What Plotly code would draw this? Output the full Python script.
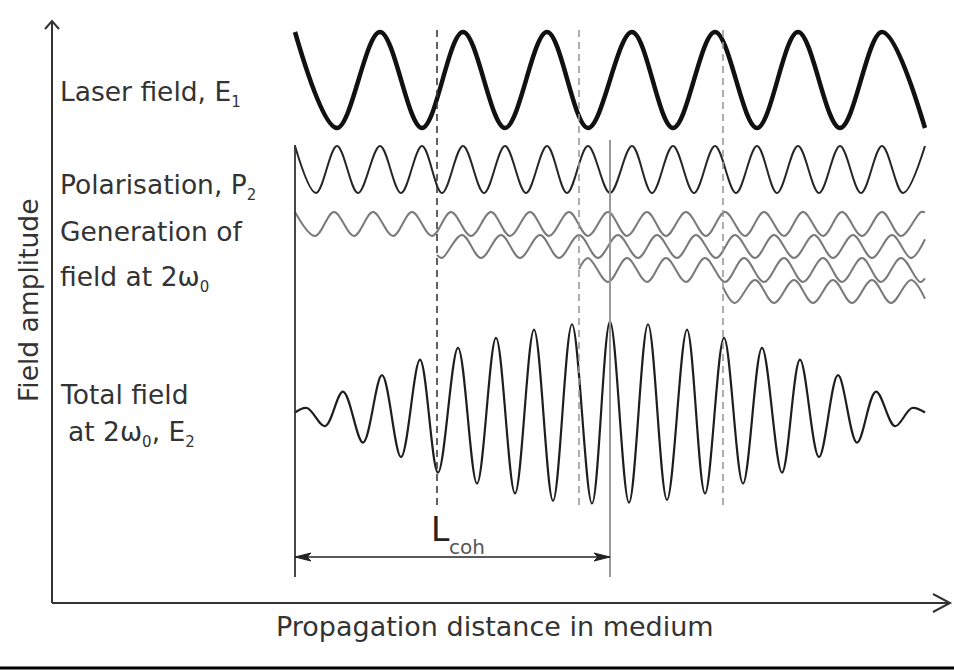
import plotly.graph_objects as go

W, H = 954, 670

# Propagation distance in arbitrary units: medium entrance at 0, L_coh at 315, exit at 630
L_COH = 315
START_POINTS = [142, 284, 428]        # where new second-harmonic contributions start

# Laser field E1 (turning points, normalised amplitude)
laser_x = [0, 42, 85, 127, 168, 210, 252, 293, 337, 378, 420, 462, 503, 545, 587, 630]
laser_y = [1, -1, 1, -1, 1, -1, 1, -1, 1, -1, 1, -1, 1, -1, 1, -1]

# Nonlinear polarisation P2
pol_x = [0, 21, 42, 63, 85, 106, 127, 147, 168, 189, 210, 231, 252, 272, 293, 315,
         337, 357, 378, 399, 420, 441, 462, 482, 503, 524, 545, 566, 587, 608, 630]
pol_y = [1, -1, 1, -1, 1, -1, 1, -1, 1, -1, 1, -1, 1, -1, 1, -1,
         1, -1, 1, -1, 1, -1, 1, -1, 1, -1, 1, -1, 1, -1, 1]

# Second-harmonic waves generated at successive points
gen1_x = [0, 20, 39, 59, 78, 98, 117, 137, 156, 176, 196, 215, 235, 254, 274, 293, 313,
          332, 352, 371, 391, 411, 430, 450, 469, 489, 508, 528, 547, 567, 587, 606, 626, 630]
gen1_y = [1, -1, 1, -1, 1, -1, 1, -1, 1, -1, 1, -1, 1, -1, 1, -1, 1,
          -1, 1, -1, 1, -1, 1, -1, 1, -1, 1, -1, 1, -1, 1, -1, 1, 0.97]

gen2_x = [142, 147, 167, 186, 206, 225, 245, 264, 284, 303, 323, 343, 362, 382,
          401, 421, 440, 460, 479, 499, 519, 538, 558, 577, 597, 616, 630]
gen2_y = [-0.73, -1, 1, -1, 1, -1, 1, -1, 1, -1, 1, -1, 1, -1,
          1, -1, 1, -1, 1, -1, 1, -1, 1, -1, 1, -1, 0.63]

gen3_x = [284, 293, 313, 332, 352, 371, 391, 410, 430, 449, 469, 489, 508, 528,
          547, 567, 586, 606, 625, 630]
gen3_y = [0.07, 1, -1, 1, -1, 1, -1, 1, -1, 1, -1, 1, -1, 1,
          -1, 1, -1, 1, -1, -0.69]

gen4_x = [428, 440, 460, 479, 499, 518, 538, 557, 577, 596, 616, 630]
gen4_y = [0.37, -1, 1, -1, 1, -1, 1, -1, 1, -1, 1, -0.63]

# Total second-harmonic field E2
total_x = [0, 12, 30, 48, 68, 87, 106, 125, 143, 163, 182, 201, 220, 239, 258, 277, 297,
           315, 334, 353, 372, 392, 410, 429, 448, 467, 487, 505, 524, 543, 562, 581,
           600, 617, 630]
total_y = [0, 0.05, -0.15, 0.23, -0.33, 0.41, -0.49, 0.58, -0.66, 0.71, -0.78, 0.82,
           -0.89, 0.91, -0.97, 0.97, -1.0, 1.0, -0.99, 0.97, -0.96, 0.91, -0.89, 0.82,
           -0.78, 0.71, -0.66, 0.58, -0.49, 0.41, -0.33, 0.23, -0.15, 0.05, 0]

FONT = "DejaVu Sans"
TEXT = "#333333"
PAD = 1.25


def py(p):
    """pixel row -> paper y"""
    return 1 - p / H


def px(p):
    return p / W


def band(center, amp):
    return [py(center + amp * PAD), py(center - amp * PAD)]


rows = [
    # x, y, axis, centre px, amplitude px, colour, width
    (laser_x, laser_y, "y", 80, 48, "#111111", 4.5),
    (pol_x, pol_y, "y2", 169.5, 23.5, "#262626", 2.0),
    (gen1_x, gen1_y, "y3", 224, 12, "#7a7a7a", 2.0),
    (gen2_x, gen2_y, "y4", 246.5, 11.5, "#7a7a7a", 2.0),
    (gen3_x, gen3_y, "y5", 270, 12, "#7a7a7a", 2.0),
    (gen4_x, gen4_y, "y6", 291.5, 11.5, "#7a7a7a", 2.0),
    (total_x, total_y, "y7", 412.5, 91, "#1e1e1e", 2.2),
]

fig = go.Figure()
layout_axes = {}
for i, (xs, ys, ax, c, a, col, w) in enumerate(rows):
    fig.add_trace(go.Scatter(
        x=xs, y=ys, yaxis=ax, mode="lines", hoverinfo="skip",
        line=dict(shape="spline", smoothing=1.0, color=col, width=w),
    ))
    key = "yaxis" if ax == "y" else "yaxis" + ax[1:]
    layout_axes[key] = dict(domain=band(c, a), range=[-PAD, PAD], visible=False,
                            anchor="x", fixedrange=True)

shapes = []
AX = dict(color="#333333", width=2)
# axes with open arrow heads
shapes.append(dict(type="line", xref="paper", yref="paper",
                   x0=px(52), y0=py(603), x1=px(52), y1=py(21), line=AX))
shapes.append(dict(type="path", xref="paper", yref="paper",
                   path=f"M {px(45)},{py(29)} L {px(52)},{py(21)} L {px(59)},{py(29)}",
                   line=AX))
shapes.append(dict(type="line", xref="paper", yref="paper",
                   x0=px(52), y0=py(603), x1=px(950), y1=py(603), line=AX))
shapes.append(dict(type="path", xref="paper", yref="paper",
                   path=f"M {px(933)},{py(594)} L {px(950)},{py(603)} L {px(933)},{py(612)}",
                   line=AX))
# rule under the figure
shapes.append(dict(type="line", xref="paper", yref="paper",
                   x0=0, y0=py(668), x1=1, y1=py(668), line=dict(color="#000000", width=3)))

# medium entrance and coherence length markers
shapes.append(dict(type="line", xref="x", yref="paper", x0=0, x1=0,
                   y0=py(577), y1=py(145), line=dict(color="#333333", width=1.8)))
shapes.append(dict(type="line", xref="x", yref="paper", x0=L_COH, x1=L_COH,
                   y0=py(577), y1=py(140), line=dict(color="#9a9a9a", width=2)))
for xs, col in zip(START_POINTS, ["#3a3a3a", "#9a9a9a", "#9a9a9a"]):
    shapes.append(dict(type="line", xref="x", yref="paper", x0=xs, x1=xs,
                       y0=py(505), y1=py(28),
                       line=dict(color=col, width=1.6, dash="7px,5px")))

# L_coh double arrow
ya = 557
shapes.append(dict(type="line", xref="x", yref="paper", x0=0, x1=L_COH,
                   y0=py(ya), y1=py(ya), line=dict(color="#222222", width=1.5)))
shapes.append(dict(type="path", xref="x", yref="paper",
                   path=(f"M {L_COH},{py(ya)} L {L_COH-16},{py(ya-4)} "
                         f"L {L_COH-12},{py(ya)} L {L_COH-16},{py(ya+4)} Z"),
                   fillcolor="#222222", line=dict(color="#222222", width=1)))
shapes.append(dict(type="path", xref="x", yref="paper",
                   path=(f"M 0,{py(ya)} L 16,{py(ya-4)} "
                         f"L 12,{py(ya)} L 16,{py(ya+4)} Z"),
                   fillcolor="#222222", line=dict(color="#222222", width=1)))

SUB = "<sub><span style='font-size:15px'>{}</span></sub>"
LS = 26.5
asc = 0.928


def label(text, left, baseline, size=LS, color=TEXT):
    return dict(text=text, xref="paper", yref="paper", x=px(left),
                y=py(baseline - asc * size - 1), xanchor="left", yanchor="top",
                showarrow=False, font=dict(family=FONT, size=size, color=color))


annotations = [
    label("Laser field, E" + SUB.format("1"), 58, 100),
    label("Polarisation, P" + SUB.format("2"), 58, 193),
    label("Generation of", 58, 240),
    label("field at 2\u03c9" + SUB.format("0"), 58, 285),
    label("Total field", 58, 403),
    label("at 2\u03c9" + SUB.format("0") + ", E" + SUB.format("2"), 66, 440),
    label("L", 429, 540, size=33, color="#222222"),
    label("coh", 447, 553, size=20, color="#555555"),
    dict(text="Propagation distance in medium", xref="paper", yref="paper",
         x=px(495), y=py(635 - asc * 27 - 1), xanchor="center", yanchor="top",
         showarrow=False, font=dict(family=FONT, size=27, color=TEXT)),
    dict(text="Field amplitude", xref="paper", yref="paper", textangle=-90,
         x=px(28), y=py(300), xanchor="center", yanchor="middle",
         showarrow=False, font=dict(family=FONT, size=26.5, color=TEXT)),
]

fig.update_layout(
    width=W, height=H, margin=dict(l=0, r=0, t=0, b=0),
    paper_bgcolor="white", plot_bgcolor="rgba(0,0,0,0)", showlegend=False,
    xaxis=dict(domain=[0, 1], range=[-295, W - 295], visible=False, fixedrange=True),
    shapes=shapes, annotations=annotations,
    **layout_axes,
)

fig.write_html("out.html")
